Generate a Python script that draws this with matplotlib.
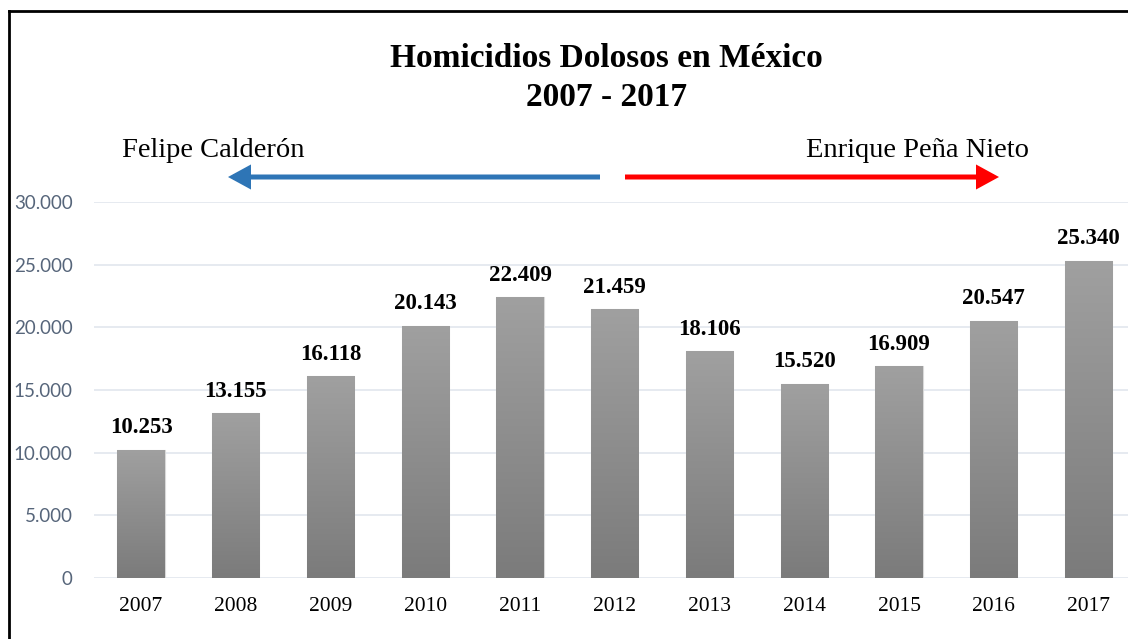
import matplotlib
matplotlib.use("Agg")
from matplotlib import pyplot as plt
from matplotlib.ticker import FuncFormatter
import numpy as np

years = ["2007", "2008", "2009", "2010", "2011", "2012", "2013", "2014", "2015", "2016", "2017"]
homicides = [10253, 13155, 16118, 20143, 22409, 21459, 18106, 15520, 16909, 20547, 25340]
y_ticks = [0, 5000, 10000, 15000, 20000, 25000, 30000]


def thousands(v, pos=None):
    return f"{int(v):,}".replace(",", ".")


fig = plt.figure(figsize=(11.28, 6.39), dpi=100)
ax = fig.add_axes([0.083, 0.0955, 0.924, 0.588])

x = np.arange(len(years))
bars = ax.bar(x, homicides, width=0.5, color="#8c8c8c", edgecolor="#d9d9d9", linewidth=0.8, zorder=2)

# vertical gradient, light at top, darker at the base
grad = np.linspace(0, 1, 256).reshape(-1, 1)
cmap = matplotlib.colors.LinearSegmentedColormap.from_list("g", ["#7b7b7b", "#a0a0a0"])
for b in bars:
    x0, w, h = b.get_x(), b.get_width(), b.get_height()
    im = ax.imshow(grad, cmap=cmap, origin="lower", aspect="auto",
                   extent=(x0, x0 + w, 0, h), zorder=2.5)
    im.set_clip_path(b)
    ax.text(b.get_x() + w / 2, h + 900, thousands(h), ha="center", va="bottom",
            family="Liberation Serif", fontweight="bold", fontsize=16.5, clip_on=False)

ax.set_xlim(-0.5, len(years) - 0.5)
ax.set_ylim(0, 30000)
ax.set_yticks(y_ticks)
ax.yaxis.set_major_formatter(FuncFormatter(thousands))
ax.set_xticks(x)
ax.set_xticklabels(years, family="Liberation Serif", fontsize=15.5)
for t in ax.get_yticklabels():
    t.set_family("Lato")
    t.set_fontsize(13.5)
    t.set_color("#56657a")
ax.tick_params(length=0)
ax.tick_params(axis="y", pad=15)
ax.tick_params(axis="x", pad=14)
ax.grid(axis="y", color="#e2e6ee", linewidth=1.2, zorder=0)
for s in ax.spines.values():
    s.set_visible(False)

fig.text(0.538, 0.908, "Homicidios Dolosos en México", ha="center", va="center",
         family="Liberation Serif", fontweight="bold", fontsize=24)
fig.text(0.538, 0.847, "2007 - 2017", ha="center", va="center",
         family="Liberation Serif", fontweight="bold", fontsize=24)

fig.text(0.108, 0.764, "Felipe Calderón", ha="left", va="center",
         family="Liberation Serif", fontsize=20.5)
fig.text(0.912, 0.764, "Enrique Peña Nieto", ha="right", va="center",
         family="Liberation Serif", fontsize=20.5)

# term arrows
ay = 1 - 177 / 639
for start, end, col in [(600, 228, "#2e75b6"), (625, 999, "#ff0000")]:
    fig.add_artist(matplotlib.patches.FancyArrowPatch(
        (start / 1128, ay), (end / 1128, ay), transform=fig.transFigure,
        arrowstyle="-|>,head_length=5.5,head_width=3", color=col, linewidth=3.6,
        capstyle="butt", joinstyle="miter",
        mutation_scale=2, shrinkA=0, shrinkB=0))

# frame around the chart
fig.add_artist(plt.Line2D([9 / 1128, 9 / 1128], [0, 1 - 11 / 639], transform=fig.transFigure,
                          color="black", linewidth=2))
fig.add_artist(plt.Line2D([9 / 1128, 1], [1 - 11 / 639, 1 - 11 / 639], transform=fig.transFigure,
                          color="black", linewidth=2))

fig.savefig("out.png", dpi=100)
